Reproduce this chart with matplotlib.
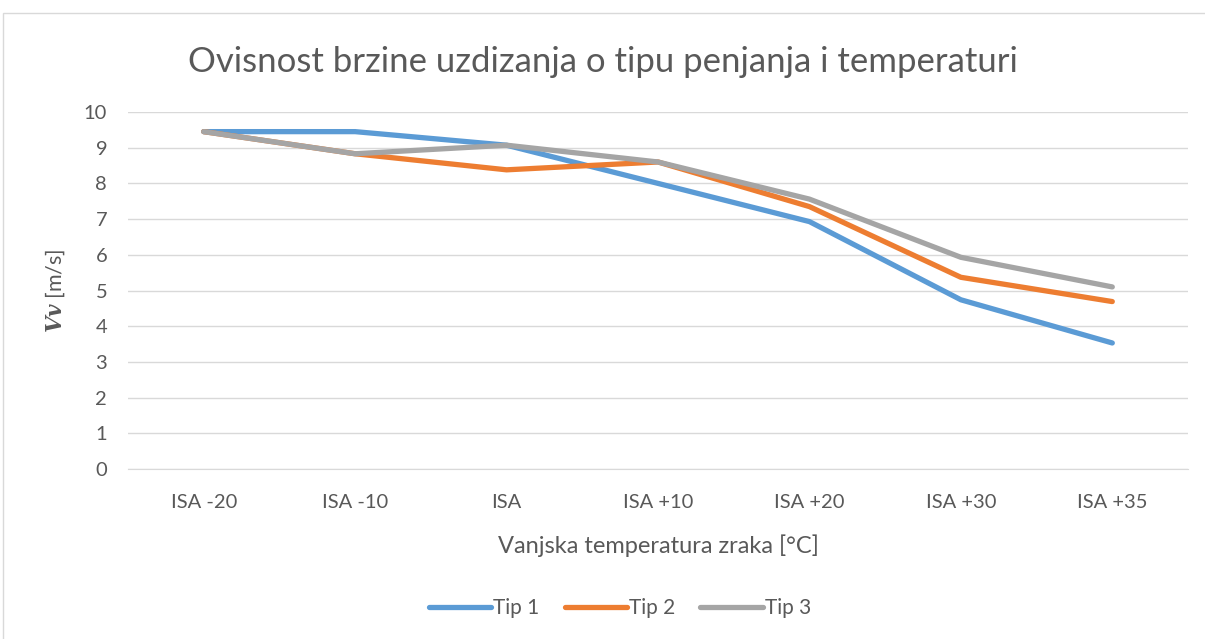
import matplotlib.pyplot as plt
import matplotlib.patches as patches
import numpy as np

categories = ["ISA -20", "ISA -10", "ISA", "ISA +10", "ISA +20", "ISA +30", "ISA +35"]
tip1 = [9.45, 9.45, 9.07, 8.0, 6.93, 4.74, 3.53]
tip2 = [9.45, 8.83, 8.38, 8.6, 7.35, 5.37, 4.69]
tip3 = [9.45, 8.83, 9.07, 8.6, 7.56, 5.93, 5.1]
series = [("Tip 1", tip1, "#5B9BD5"), ("Tip 2", tip2, "#ED7D31"), ("Tip 3", tip3, "#A5A5A5")]

plt.rcParams['font.family'] = ['Lato', 'DejaVu Sans']
plt.rcParams['mathtext.fontset'] = 'custom'
plt.rcParams['mathtext.bf'] = 'DejaVu Serif:italic:bold'
txt = "#595959"

W, H = 1205, 639
fig = plt.figure(figsize=(W / 100, H / 100), dpi=100)
# chart frame
fig.add_artist(patches.Rectangle((3 / W, -0.1), 1.2, 1 - 13 / H + 0.1, transform=fig.transFigure,
                                 fill=False, edgecolor="#D9D9D9", linewidth=1))

ax = fig.add_axes([128 / W, 1 - 469 / H, (1188 - 128) / W, (469 - 112) / H])
x = np.arange(len(categories))
for name, vals, col in series:
    ax.plot(x, vals, color=col, linewidth=3.8, label=name, solid_capstyle="round",
            solid_joinstyle="round")

ax.set_xlim(-0.5, len(categories) - 0.5)
ax.set_ylim(0, 10)
ax.set_yticks(range(0, 11))
ax.set_xticks(x)
ax.set_xticklabels(categories)
ax.grid(axis="y", color="#D9D9D9", linewidth=1)
ax.set_axisbelow(True)
for s in ["top", "right", "left"]:
    ax.spines[s].set_visible(False)
ax.spines["bottom"].set_color("#D9D9D9")
ax.tick_params(axis="both", length=0, labelsize=14.5, colors=txt)
ax.tick_params(axis="y", pad=15)
ax.tick_params(axis="x", pad=18)

ax.set_xlabel("Vanjska temperatura zraka [°C]", fontsize=17, color=txt, labelpad=17)
ax.set_ylabel(r"$\mathbf{Vv}$ [m/s]", fontsize=15.5, color=txt, labelpad=12)

fig.text(603 / W, 1 - 62 / H, "Ovisnost brzine uzdizanja o tipu penjanja i temperaturi",
         ha="center", va="center", fontsize=25, color=txt)

fig.legend(loc="center", bbox_to_anchor=(620 / W, 1 - 608 / H), ncol=3, frameon=False,
           fontsize=15, handlelength=3.0, handletextpad=0.1, columnspacing=1.2,
           labelcolor=txt)

fig.savefig("out.png", dpi=100)
